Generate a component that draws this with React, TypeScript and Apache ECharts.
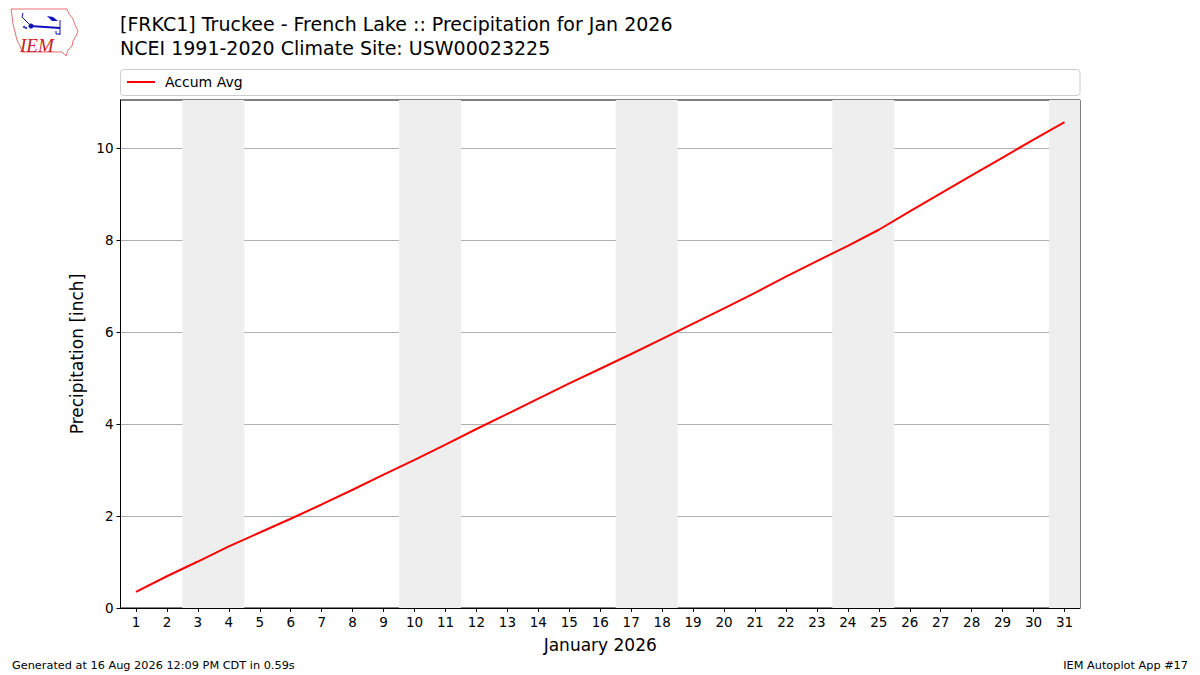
import React, { useEffect, useRef } from "react";
import * as echarts from "echarts";

const days = [1, 2, 3, 4, 5, 6, 7, 8, 9, 10, 11, 12, 13, 14, 15, 16, 17, 18, 19, 20, 21, 22, 23, 24, 25, 26, 27, 28, 29, 30, 31];
const accumAvg = [0.35, 0.69, 1.01, 1.34, 1.64, 1.94, 2.25, 2.57, 2.9, 3.22, 3.55, 3.89, 4.22, 4.55, 4.88, 5.2, 5.52, 5.85, 6.18, 6.51, 6.85, 7.2, 7.54, 7.87, 8.22, 8.62, 9.01, 9.4, 9.79, 10.18, 10.56];
const weekendDays = [3, 4, 10, 11, 17, 18, 24, 25, 31];
const yTickValues = [0, 2, 4, 6, 8, 10];

const titleText = "[FRKC1] Truckee - French Lake :: Precipitation for Jan 2026\nNCEI 1991-2020 Climate Site: USW00023225";
const FONT = "DejaVu Sans";

function weekendRanges(list: number[]) {
  const ranges: [number, number][] = [];
  list.forEach((d) => {
    const last = ranges[ranges.length - 1];
    if (last && last[1] === d - 1) last[1] = d;
    else ranges.push([d, d]);
  });
  return ranges.map(([a, b]) => [{ xAxis: a - 0.5 }, { xAxis: Math.min(b + 0.5, 31.5) }]);
}

export default function App() {
  const ref = useRef<HTMLDivElement>(null);
  useEffect(() => {
    document.body.style.margin = "0";
    const chart = echarts.init(ref.current!, null, { renderer: "svg" });
    const option: any = {
      animation: false,
      backgroundColor: "#ffffff",
      textStyle: { fontFamily: FONT },
      title: {
        text: titleText,
        left: 120,
        top: 12,
        padding: 0,
        textStyle: { fontFamily: FONT, fontSize: 19, fontWeight: "normal", color: "#000", lineHeight: 24 },
      },
      legend: {
        left: 122,
        top: 70,
        itemWidth: 28,
        itemHeight: 14,
        itemGap: 10,
        textStyle: { fontFamily: FONT, fontSize: 14, color: "#000", padding: [0, 0, 0, 5] },
        data: [{ name: "Accum Avg", icon: "path://M0,0 L28,0 L28,2 L0,2 Z", itemStyle: { color: "#ff0000" } }],
      },
      grid: {
        left: 120.5,
        right: 120,
        top: 100,
        bottom: 67,
        show: true,
        borderColor: "#000",
        borderWidth: 1,
        backgroundColor: "transparent",
      },
      xAxis: {
        type: "value",
        min: 0.5,
        max: 31.5,
        name: "January 2026",
        nameLocation: "middle",
        nameGap: 28,
        nameTextStyle: { fontFamily: FONT, fontSize: 17, color: "#000" },
        axisLine: { show: true, lineStyle: { color: "#000", width: 1 } },
        axisTick: { show: true, length: 4, customValues: days, lineStyle: { color: "#000" } },
        axisLabel: { customValues: days, fontFamily: FONT, fontSize: 13.5, color: "#000", margin: 7 },
        splitLine: { show: false },
      },
      yAxis: {
        type: "value",
        min: 0,
        max: 11.04,
        interval: 2,
        name: "Precipitation [inch]",
        nameLocation: "middle",
        nameGap: 34,
        nameTextStyle: { fontFamily: FONT, fontSize: 17, color: "#000" },
        axisLine: { show: true, lineStyle: { color: "#000", width: 1 } },
        axisTick: { show: true, length: 4, customValues: yTickValues, lineStyle: { color: "#000" } },
        axisLabel: { customValues: yTickValues, fontFamily: FONT, fontSize: 13.5, color: "#000", margin: 7 },
        splitLine: { show: true, lineStyle: { color: "#b0b0b0", width: 1 } },
      },
      series: [
        {
          name: "Accum Avg",
          type: "line",
          data: days.map((d, i) => [d, accumAvg[i]]),
          symbol: "none",
          lineStyle: { color: "#ff0000", width: 2 },
          itemStyle: { color: "#ff0000" },
          z: 3,
          markArea: {
            silent: true,
            itemStyle: { color: "#eeeeee", borderWidth: 0 },
            data: weekendRanges(weekendDays),
          },
        },
      ],
      graphic: [
        {
          type: "rect",
          shape: { x: 120.5, y: 69.5, width: 959.5, height: 26, r: 3 },
          style: { fill: "#ffffff", stroke: "#cccccc", lineWidth: 1 },
          z: -1,
        },
        {
          type: "polygon",
          shape: {
            points: [
              [11, 9], [67, 9], [69, 14], [73, 19], [75, 25], [78, 31], [76, 36], [73, 41], [72, 46], [68, 50], [66, 56], [62, 52], [22, 52], [20, 46], [17, 40], [15, 32], [13, 24], [12, 16],
            ],
          },
          style: { fill: "none", stroke: "#e87070", lineWidth: 1 },
        },
        {
          type: "polyline",
          shape: { points: [[30, 26], [60, 28]] },
          style: { stroke: "#1010c0", lineWidth: 2 },
        },
        { type: "circle", shape: { cx: 31, cy: 26, r: 2.5 }, style: { fill: "#1010c0" } },
        {
          type: "polygon",
          shape: { points: [[47, 16], [53, 17], [58, 21], [52, 21]] },
          style: { fill: "#1010c0" },
        },
        {
          type: "polyline",
          shape: { points: [[23, 13], [22, 17], [25, 20], [29, 24]] },
          style: { stroke: "#1010c0", lineWidth: 1, fill: "none" },
        },
        {
          type: "polyline",
          shape: { points: [[60, 20], [60, 35]] },
          style: { stroke: "#1010c0", lineWidth: 1 },
        },
        {
          type: "polyline",
          shape: { points: [[56, 31], [56, 34], [60, 34]] },
          style: { stroke: "#1010c0", lineWidth: 1, fill: "none" },
        },
        { type: "circle", shape: { cx: 24, cy: 27, r: 1 }, style: { fill: "#1010c0" } },
        { type: "circle", shape: { cx: 26, cy: 28, r: 1 }, style: { fill: "#1010c0" } },
        {
          type: "text",
          x: 20,
          y: 45,
          style: {
            text: "IEM",
            fontFamily: "Liberation Serif",
            fontStyle: "italic",
            fontSize: 19,
            fill: "#cc2020",
            verticalAlign: "middle",
          },
        },
        {
          type: "text",
          x: 12,
          y: 665,
          style: {
            text: "Generated at 16 Aug 2026 12:09 PM CDT in 0.59s",
            fontFamily: FONT,
            fontSize: 11.3,
            fill: "#000",
            verticalAlign: "middle",
          },
        },
        {
          type: "text",
          x: 1188,
          y: 665,
          style: {
            text: "IEM Autoplot App #17",
            fontFamily: FONT,
            fontSize: 11.3,
            fill: "#000",
            align: "right",
            verticalAlign: "middle",
          },
        },
      ],
    };
    chart.setOption(option);
    return () => chart.dispose();
  }, []);
  return <div ref={ref} style={{ width: 1200, height: 675, position: "absolute", left: 0, top: 0 }} />;
}
